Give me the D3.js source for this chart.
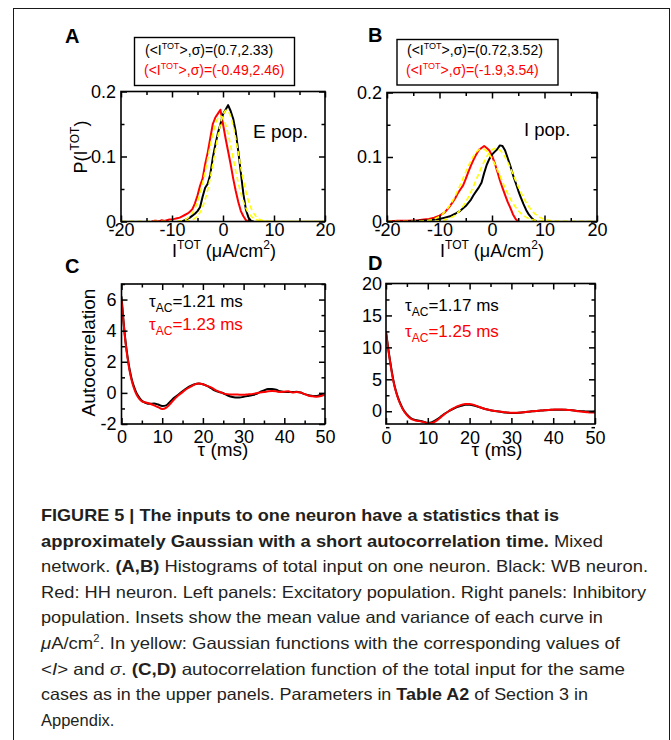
<!DOCTYPE html>
<html>
<head>
<meta charset="utf-8">
<script src="https://cdn.jsdelivr.net/npm/d3@7"></script>
<style>
  html, body { margin: 0; padding: 0; background: #fff; }
  svg { display: block; }
</style>
</head>
<body>
<svg id="fig" width="671" height="740"></svg>
<script>
// ---------- Panel A: E population, histograms of total input ----------
const eBinsWB = [-8,-7.5,-7,-6.5,-6,-5.5,-5,-4.5,-4,-3.5,-3,-2.5,-2,-1.5,-1,-0.5,0,0.5,1,1.5,2,2.5,3,3.5,4,4.5,5,5.5,6];
const eProbWB = [0,0.002,0.004,0.006,0.009,0.012,0.016,0.022,0.038,0.052,0.058,0.072,0.098,0.118,0.136,0.150,0.165,0.172,0.179,0.170,0.158,0.138,0.108,0.075,0.042,0.018,0.006,0.001,0];
const eBinsHH = [-14,-13.5,-13,-12.5,-12,-11.5,-11,-10.5,-10,-9.5,-9,-8.5,-8,-7.5,-7,-6.5,-6,-5.5,-5,-4.5,-4,-3.5,-3,-2.5,-2,-1.5,-1,-0.5,0,0.5,1,1.5,2,2.5,3,3.5,4,4.5,5];
const eProbHH = [0,0.001,0.001,0,0.002,0.001,0.002,0.003,0.003,0.004,0.005,0.006,0.008,0.010,0.012,0.015,0.019,0.028,0.040,0.055,0.066,0.088,0.106,0.128,0.150,0.160,0.166,0.172,0.150,0.128,0.108,0.088,0.066,0.047,0.030,0.016,0.008,0.002,0];
const eMean  = [0.7, -0.49];   // WB, HH
const eSigma = [2.33, 2.46];

// ---------- Panel B: I population ----------
const iBinsWB = [-16,-14,-12,-11,-10,-9,-8,-7,-6,-5,-4,-3.5,-3,-2.5,-2,-1.5,-1,-0.5,0,0.5,1,1.5,2,2.5,3,3.5,4,4.5,5,5.5,6,6.5,7,7.5,8,8.5];
const iProbWB = [0,0.001,0.002,0.003,0.004,0.006,0.008,0.012,0.017,0.024,0.034,0.041,0.047,0.053,0.060,0.075,0.088,0.097,0.104,0.108,0.112,0.118,0.117,0.110,0.098,0.086,0.072,0.060,0.048,0.037,0.027,0.018,0.011,0.006,0.002,0];
const iBinsHH = [-20,-18,-16,-14,-13,-12,-11,-10,-9,-8,-7.5,-7,-6.5,-6,-5.5,-5,-4.5,-4,-3.5,-3,-2.5,-2,-1.5,-1,-0.5,0,0.5,1,1.5,2,2.5,3,3.5,4,4.5,5];
const iProbHH = [0,0.001,0.001,0.002,0.003,0.004,0.006,0.009,0.014,0.024,0.030,0.036,0.044,0.050,0.056,0.066,0.077,0.087,0.096,0.104,0.111,0.114,0.117,0.114,0.110,0.102,0.091,0.078,0.064,0.052,0.041,0.030,0.021,0.011,0.004,0];
const iMean  = [0.72, -1.9];
const iSigma = [3.52, 3.54];

// ---------- Panels C, D: autocorrelation ----------
const tau = [0,0.5,1,1.5,2,2.5,3,3.5,4,5,6,7,8,9,10,11,12,13,14,15,16,17,18,19,20,21,22,23,24,25,26,27,28,29,30,31,32,33,34,35,36,37,38,39,40,41,42,43,44,45,46,47,48,49,50];
const acE_WB = [6.2,4.6,3.3,2.3,1.5,0.9,0.45,0.1,-0.15,-0.5,-0.65,-0.7,-0.68,-0.75,-0.84,-0.8,-0.55,-0.3,-0.1,0.1,0.3,0.45,0.55,0.6,0.55,0.45,0.3,0.15,0.05,-0.02,-0.15,-0.25,-0.3,-0.3,-0.25,-0.2,-0.15,-0.08,0.05,0.15,0.25,0.25,0.2,0.1,0.05,0.05,0.05,0.08,0.02,-0.08,-0.15,-0.2,-0.2,-0.12,-0.05];
const acE_HH = [6.0,4.5,3.2,2.2,1.4,0.8,0.35,0.0,-0.25,-0.55,-0.62,-0.7,-0.8,-0.92,-1.04,-0.95,-0.7,-0.4,-0.15,0.05,0.25,0.4,0.55,0.6,0.55,0.45,0.35,0.2,0.08,-0.03,-0.08,-0.1,-0.1,-0.12,-0.12,-0.1,-0.08,-0.03,0.02,0.05,0.1,0.12,0.1,0.05,0.08,0.1,0.02,0.05,0.02,-0.08,-0.18,-0.22,-0.25,-0.2,-0.1];
const acI_WB = [12.5,10,7.8,5.8,4.1,2.9,1.9,1.1,0.4,-0.5,-1.1,-1.35,-1.5,-1.65,-1.8,-1.7,-1.35,-0.9,-0.4,0,0.35,0.65,0.85,1.0,1.0,0.9,0.7,0.5,0.3,0.15,0.05,-0.05,-0.15,-0.22,-0.28,-0.28,-0.22,-0.15,-0.1,-0.02,0.05,0.1,0.15,0.2,0.22,0.25,0.25,0.22,0.18,0.12,0.05,0,-0.05,-0.05,-0.02];
const acI_HH = [12.3,9.8,7.6,5.6,4.0,2.8,1.8,1.0,0.35,-0.6,-1.2,-1.45,-1.55,-1.7,-1.9,-1.85,-1.5,-1.0,-0.45,0,0.4,0.75,1.0,1.15,1.15,1.0,0.75,0.5,0.3,0.15,0.05,-0.05,-0.12,-0.2,-0.25,-0.25,-0.2,-0.15,-0.08,0,0.05,0.1,0.15,0.2,0.25,0.28,0.28,0.25,0.18,0.1,0,-0.08,-0.15,-0.2,-0.18];
const tauAC_E = [1.21, 1.23];
const tauAC_I = [1.17, 1.25];

// ---------- tick values ----------
const histXMajor = [-20,-10,0,10,20];
const histXMinor = [-15,-5,5,15];
const histYMajor = [0,0.1,0.2];
const histYMinor = [0.05,0.15];
const tauMajor = [0,10,20,30,40,50];
const tauMinor = [5,15,25,35,45];
const acEYMajor = [-2,0,2,4,6];
const acEYMinor = [-1,1,3,5,7];
const acIYMajor = [0,5,10,15,20];
const acIYMinor = [-2.5,2.5,7.5,12.5,17.5];

const FONT = "'Liberation Sans', Arial, Helvetica, sans-serif";
const BLACK = "#000000", RED = "#ff0000", YELLOW = "#ffff00";

const svg = d3.select("#fig");
svg.append("rect")
  .attr("x", 13.5).attr("y", 8.5).attr("width", 656).attr("height", 800)
  .attr("fill", "none").attr("stroke", "#1a1a1a").attr("stroke-width", 1);

const defs = svg.append("defs");

// Gaussian with the mean and sigma stated in each inset
function gaussianPoints(mu, s) {
  const pts = [];
  for (let v = -20; v <= 20.0001; v += 0.1) {
    pts.push([v, Math.exp(-((v - mu) * (v - mu)) / (2 * s * s)) / (s * Math.sqrt(2 * Math.PI))]);
  }
  return pts;
}

function panel(o) {
  const g = svg.append("g");
  const x = d3.scaleLinear().domain(o.xDomain).range([o.left, o.right]);
  const y = d3.scaleLinear().domain(o.yDomain).range([o.bottom, o.top]);

  defs.append("clipPath").attr("id", "clip-" + o.name)
    .append("rect").attr("x", o.left).attr("y", o.top)
    .attr("width", o.right - o.left).attr("height", o.bottom - o.top);

  const plot = g.append("g").attr("clip-path", `url(#clip-${o.name})`);
  const line = d3.line().x(d => x(d[0])).y(d => y(d[1]));
  if (o.curve) line.curve(o.curve);

  o.series.forEach(s => {
    plot.append("path")
      .attr("d", line(s.points))
      .attr("fill", "none")
      .attr("stroke", s.color)
      .attr("stroke-width", s.width || 2)
      .attr("stroke-dasharray", s.dash || null)
      .attr("stroke-linejoin", "round");
  });

  // frame
  g.append("rect")
    .attr("x", o.left).attr("y", o.top)
    .attr("width", o.right - o.left).attr("height", o.bottom - o.top)
    .attr("fill", "none").attr("stroke", BLACK).attr("stroke-width", 1.6);

  function addAxis(gen, scale, ticks, size, fmt, pad, tr) {
    const a = gen(scale).tickValues(ticks).tickSize(-size).tickPadding(pad)
      .tickFormat(fmt);
    const ga = g.append("g").attr("transform", tr).call(a);
    ga.select(".domain").remove();
    ga.selectAll(".tick line").attr("stroke", BLACK).attr("stroke-width", 1.5);
    ga.selectAll(".tick text").attr("font-size", 18).attr("font-family", FONT).attr("fill", BLACK);
    return ga;
  }
  const none = () => "";
  const MJ = 6, MN = 3.5;
  // bottom & top (ticks point inward on all four sides)
  addAxis(d3.axisBottom, x, o.xMajor, MJ, d => String(d), o.xPad, `translate(0,${o.bottom})`);
  addAxis(d3.axisBottom, x, o.xMinor, MN, none, 0, `translate(0,${o.bottom})`);
  addAxis(d3.axisTop, x, o.xMajor, MJ, none, 0, `translate(0,${o.top})`);
  addAxis(d3.axisTop, x, o.xMinor, MN, none, 0, `translate(0,${o.top})`);
  // left & right
  addAxis(d3.axisLeft, y, o.yMajor, MJ, d => String(d), o.yPad, `translate(${o.left},0)`);
  addAxis(d3.axisLeft, y, o.yMinor, MN, none, 0, `translate(${o.left},0)`);
  addAxis(d3.axisRight, y, o.yMajor, MJ, none, 0, `translate(${o.right},0)`);
  addAxis(d3.axisRight, y, o.yMinor, MN, none, 0, `translate(${o.right},0)`);

  return { g, x, y };
}

function pairs(xs, ys) { return xs.map((v, i) => [v, ys[i]]); }

function panelLetter(txt, px, py) {
  svg.append("text").attr("x", px).attr("y", py)
    .attr("font-family", FONT).attr("font-weight", "bold").attr("font-size", 20)
    .attr("fill", BLACK).text(txt);
}

function itotTitle(cx, cy) {
  const t = svg.append("text").attr("x", cx).attr("y", cy)
    .attr("text-anchor", "middle").attr("font-family", FONT)
    .attr("font-size", 18).attr("fill", BLACK);
  t.append("tspan").text("I");
  t.append("tspan").attr("dy", -8).attr("font-size", 12).text("TOT");
  t.append("tspan").attr("dy", 8).text(" (\u03bcA/cm");
  t.append("tspan").attr("dy", -8).attr("font-size", 12).text("2");
  t.append("tspan").attr("dy", 8).text(")");
}

function statLine(px, py, color, mu, s) {
  const t = svg.append("text").attr("x", px).attr("y", py)
    .attr("font-family", FONT).attr("font-size", 14).attr("fill", color);
  t.append("tspan").text("(<I");
  t.append("tspan").attr("dy", -6).attr("font-size", 9).text("TOT");
  t.append("tspan").attr("dy", 6).text(`>,\u03c3)=(${mu},${s})`);
}

function tauLine(px, py, color, v) {
  const t = svg.append("text").attr("x", px).attr("y", py)
    .attr("font-family", FONT).attr("font-size", 17).attr("fill", color);
  t.append("tspan").text("\u03c4");
  t.append("tspan").attr("dy", 5).attr("font-size", 12).text("AC");
  t.append("tspan").attr("dy", -5).text(`=${v} ms`);
}

function tauTitle(cx, cy) {
  svg.append("text").attr("x", cx).attr("y", cy)
    .attr("text-anchor", "middle").attr("font-family", FONT)
    .attr("font-size", 19).attr("fill", BLACK).text("\u03c4 (ms)");
}

// ---------- A ----------
panel({
  name: "A", left: 121, right: 325, top: 91.5, bottom: 221.5,
  xDomain: [-20, 20], yDomain: [0, 0.2],
  xMajor: histXMajor, xMinor: histXMinor, yMajor: histYMajor, yMinor: histYMinor,
  xPad: 2, yPad: 5,
  series: [
    { points: pairs(eBinsHH, eProbHH), color: RED, width: 2 },
    { points: pairs(eBinsWB, eProbWB), color: BLACK, width: 2 },
    { points: gaussianPoints(eMean[0], eSigma[0]), color: YELLOW, width: 1.6, dash: "5,3" },
    { points: gaussianPoints(eMean[1], eSigma[1]), color: YELLOW, width: 1.6, dash: "5,3" }
  ]
});
panelLetter("A", 65, 43);
svg.append("rect").attr("x", 134.5).attr("y", 37.5).attr("width", 160).attr("height", 48)
  .attr("fill", "none").attr("stroke", BLACK).attr("stroke-width", 1.4);
statLine(145, 55, BLACK, eMean[0], eSigma[0]);
statLine(144, 75, RED, eMean[1], eSigma[1]);
svg.append("text").attr("x", 253).attr("y", 137.5).attr("font-family", FONT)
  .attr("font-size", 19).attr("fill", BLACK).text("E pop.");
{
  const t = svg.append("text").attr("transform", "translate(87,147) rotate(-90)")
    .attr("text-anchor", "middle").attr("font-family", FONT).attr("font-size", 18).attr("fill", BLACK);
  t.append("tspan").text("P(I");
  t.append("tspan").attr("dy", -8).attr("font-size", 12).text("TOT");
  t.append("tspan").attr("dy", 8).text(")");
}
itotTitle(224, 257);

// ---------- B ----------
panel({
  name: "B", left: 387, right: 597, top: 92.5, bottom: 221.5,
  xDomain: [-20, 20], yDomain: [0, 0.2],
  xMajor: histXMajor, xMinor: histXMinor, yMajor: histYMajor, yMinor: histYMinor,
  xPad: 2, yPad: 5,
  series: [
    { points: pairs(iBinsHH, iProbHH), color: RED, width: 2 },
    { points: pairs(iBinsWB, iProbWB), color: BLACK, width: 2 },
    { points: gaussianPoints(iMean[0], iSigma[0]), color: YELLOW, width: 1.6, dash: "5,3" },
    { points: gaussianPoints(iMean[1], iSigma[1]), color: YELLOW, width: 1.6, dash: "5,3" }
  ]
});
panelLetter("B", 368, 42);
svg.append("rect").attr("x", 397).attr("y", 39.5).attr("width", 161).attr("height", 45.5)
  .attr("fill", "none").attr("stroke", BLACK).attr("stroke-width", 1.4);
statLine(407, 55, BLACK, iMean[0], iSigma[0]);
statLine(406, 75, RED, iMean[1], iSigma[1]);
svg.append("text").attr("x", 524).attr("y", 135.5).attr("font-family", FONT)
  .attr("font-size", 18.5).attr("fill", BLACK).text("I pop.");
itotTitle(492, 257);

// ---------- C ----------
panel({
  name: "C", left: 121.5, right: 325, top: 284, bottom: 424,
  xDomain: [0, 50], yDomain: [-2, 7],
  xMajor: tauMajor, xMinor: tauMinor, yMajor: acEYMajor, yMinor: acEYMinor,
  xPad: 6, yPad: 5, curve: d3.curveMonotoneX,
  series: [
    { points: pairs(tau, acE_WB), color: BLACK, width: 2 },
    { points: pairs(tau, acE_HH), color: RED, width: 2 }
  ]
});
panelLetter("C", 65, 273);
tauLine(149, 306.5, BLACK, tauAC_E[0]);
tauLine(149, 329.5, RED, tauAC_E[1]);
svg.append("text").attr("transform", "translate(95,352.5) rotate(-90)")
  .attr("text-anchor", "middle").attr("font-family", FONT).attr("font-size", 19)
  .attr("fill", BLACK).text("Autocorrelation");
tauTitle(223, 456);

// ---------- D ----------
panel({
  name: "D", left: 386, right: 595, top: 283.5, bottom: 424,
  xDomain: [0, 50], yDomain: [-2, 20],
  xMajor: tauMajor, xMinor: tauMinor, yMajor: acIYMajor, yMinor: acIYMinor,
  xPad: 7, yPad: 4, curve: d3.curveMonotoneX,
  series: [
    { points: pairs(tau, acI_WB), color: BLACK, width: 2 },
    { points: pairs(tau, acI_HH), color: RED, width: 2 }
  ]
});
panelLetter("D", 368, 270);
tauLine(405, 311, BLACK, tauAC_I[0]);
tauLine(405, 336.5, RED, tauAC_I[1]);
tauTitle(497, 456);

// ---------- caption (condensed lines, each set to its measure) ----------
const captionLines = [
  { end: 559, parts: [["FIGURE 5 | The inputs to one neuron have a statistics that is", "b"]] },
  { end: 603, parts: [["approximately Gaussian with a short autocorrelation time.", "b"], [" Mixed", "n"]] },
  { end: 648, parts: [["network. ", "n"], ["(A,B)", "b"], [" Histograms of total input on one neuron. Black: WB neuron.", "n"]] },
  { end: 646, parts: [["Red: HH neuron. Left panels: Excitatory population. Right panels: Inhibitory", "n"]] },
  { end: 603, parts: [["population. Insets show the mean value and variance of each curve in", "n"]] },
  { end: 620, parts: [["\u03bc", "i"], ["A/cm", "n"], ["2", "sup"], [". In yellow: Gaussian functions with the corresponding values of", "n"]] },
  { end: 625, parts: [["<", "n"], ["I", "i"], ["> and ", "n"], ["\u03c3", "i"], [". ", "n"], ["(C,D)", "b"], [" autocorrelation function of the total input for the same", "n"]] },
  { end: 588, parts: [["cases as in the upper panels. Parameters in ", "n"], ["Table A2", "b"], [" of Section 3 in", "n"]] },
  { end: null, parts: [["Appendix.", "n"]] }
];
const capX = 41, capY0 = 521, capStep = 25.6;
captionLines.forEach((ln, i) => {
  const t = svg.append("text")
    .attr("x", capX).attr("y", capY0 + i * capStep)
    .attr("font-family", FONT).attr("font-size", 16.5).attr("fill", "#231f20");
  if (ln.end !== null) {
    t.attr("textLength", ln.end - capX).attr("lengthAdjust", "spacingAndGlyphs");
  }
  let shifted = false;
  ln.parts.forEach(([txt, st]) => {
    const sp = t.append("tspan").text(txt);
    if (st === "b") sp.attr("font-weight", "bold");
    if (st === "i") sp.attr("font-style", "italic");
    if (st === "sup") { sp.attr("font-size", 10).attr("dy", -7); shifted = true; }
    else if (shifted) { sp.attr("dy", 7); shifted = false; }
  });
});
</script>
</body>
</html>
